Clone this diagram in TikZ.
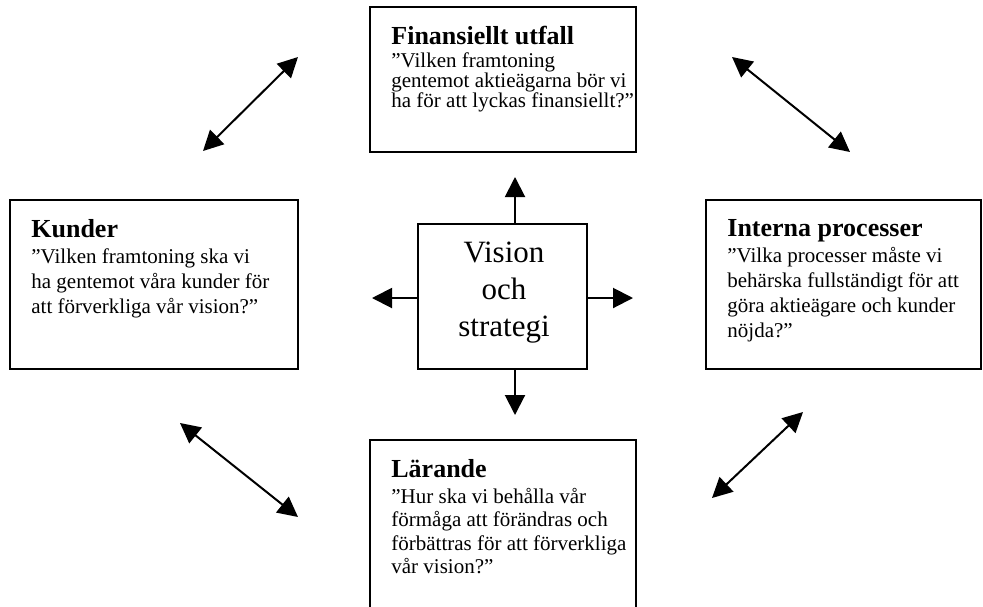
\documentclass[tikz,border=0pt]{standalone}
\usepackage{fontspec}
\setmainfont{Liberation Serif}
\usetikzlibrary{arrows.meta}

\begin{document}
\begin{tikzpicture}[
  x=0.5pt, y=-0.5pt,
  box/.style={rectangle, draw, line width=1pt, inner sep=0pt},
  txt/.style={anchor=north west, align=left, inner sep=0pt, font=\fontsize{10.5}{12.5}\selectfont},
  arrow/.style={-{Triangle[length=10pt, width=10pt]}, line width=1pt},
  twoway/.style={{Triangle[length=10pt, width=10pt]}-{Triangle[length=10pt, width=10pt]}, line width=1pt},
]
\useasboundingbox (0,0) rectangle (983,606);

% === PERSPECTIVE BOXES ===
\node[box, minimum width=133pt, minimum height=72.5pt] (fin) at (503, 79.5) {};
\node[box, minimum width=144pt, minimum height=84.5pt] (kund) at (154, 284.5) {};
\node[box, minimum width=137.5pt, minimum height=84.5pt] (proc) at (843.5, 284.5) {};
\node[box, minimum width=133pt, minimum height=90pt] (lar) at (503, 530) {};
\node[box, minimum width=84.5pt, minimum height=72.5pt] (vis) at (502.5, 296.5) {};

\node[txt, font=\fontsize{10.5}{10}\selectfont] (finText) at ([shift={(22,20)}]fin.north west)
  {{\fontsize{13}{13}\selectfont\bfseries Finansiellt utfall}\\[1.5pt]”Vilken framtoning\\gentemot aktieägarna bör vi\\ha för att lyckas finansiellt?”};
\node[txt] (kundText) at ([shift={(22,20)}]kund.north west)
  {{\fontsize{13}{13}\selectfont\bfseries Kunder}\\[0.5pt]”Vilken framtoning ska vi\\ha gentemot våra kunder för\\att förverkliga vår vision?”};
\node[txt] (procText) at ([shift={(22,20)}]proc.north west)
  {{\fontsize{13}{13}\selectfont\bfseries Interna processer}\\[0.5pt]”Vilka processer måste vi\\behärska fullständigt för att\\göra aktieägare och kunder\\nöjda?”};
\node[txt, font=\fontsize{10.5}{11.8}\selectfont] (larText) at ([shift={(22,20)}]lar.north west)
  {{\fontsize{13}{13}\selectfont\bfseries Lärande}\\[1pt]”Hur ska vi behålla vår\\förmåga att förändras och\\förbättras för att förverkliga\\vår vision?”};
\node[anchor=north, align=center, inner sep=0pt, font=\fontsize{15.5}{18.5}\selectfont] (visText) at ([shift={(1.5,19)}]vis.north)
  {Vision\\och\\strategi};

% === ARROWS FROM THE CENTRE ===
\coordinate (upTip) at (515, 177);
\coordinate (downTip) at (515, 415);
\coordinate (leftTip) at (372, 298);
\coordinate (rightTip) at (633, 298);
\draw[arrow] (vis.north -| upTip) -- (upTip);
\draw[arrow] (vis.south -| downTip) -- (downTip);
\draw[arrow] (vis.west |- leftTip) -- (leftTip);
\draw[arrow] (vis.east |- rightTip) -- (rightTip);

% === LINKS BETWEEN PERSPECTIVES ===
\coordinate (tlA) at (203, 151);
\coordinate (tlB) at (298, 57);
\coordinate (trA) at (732, 57);
\coordinate (trB) at (850, 152);
\coordinate (blA) at (180, 423);
\coordinate (blB) at (298, 517);
\coordinate (brA) at (803, 412);
\coordinate (brB) at (712, 498);
\draw[twoway] (tlA) -- (tlB);
\draw[twoway] (trA) -- (trB);
\draw[twoway] (blA) -- (blB);
\draw[twoway] (brA) -- (brB);
\end{tikzpicture}
\end{document}
